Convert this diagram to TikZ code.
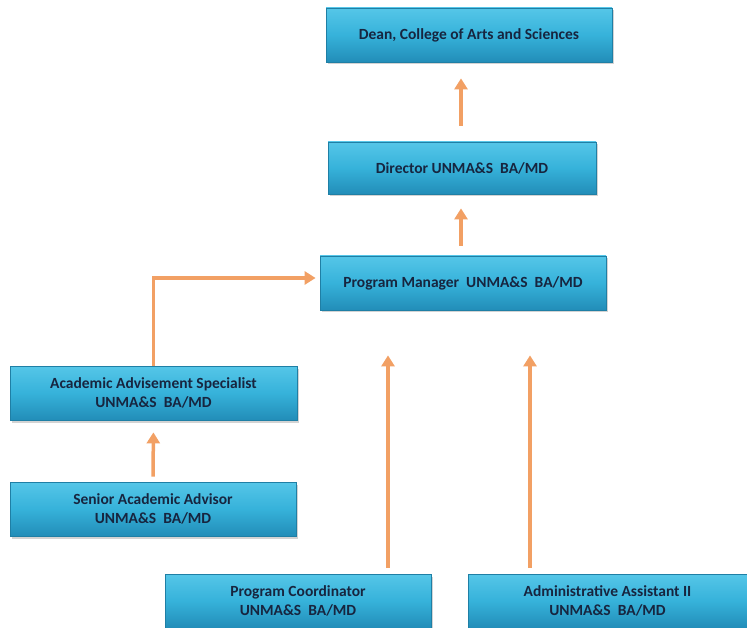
\documentclass[tikz,border=0pt]{standalone}
\usepackage{fontspec}
\setmainfont{Carlito}
\usetikzlibrary{arrows.meta,shadows}
\definecolor{boxtop}{HTML}{55C6E8}
\definecolor{boxmid}{HTML}{36B2DA}
\definecolor{boxbot}{HTML}{228DB8}
\definecolor{boxline}{HTML}{1F7FA5}
\definecolor{txt}{HTML}{17253F}
\definecolor{arrc}{HTML}{F2A064}
\tikzset{
  box/.style={rectangle, draw=boxline, line width=0.8pt,
    top color=boxtop, bottom color=boxbot, middle color=boxmid,
    text=txt, font=\bfseries\fontsize{15.5}{19}\selectfont, align=center,
    minimum height=54pt, inner sep=2pt,
    drop shadow={shadow xshift=2pt, shadow yshift=-2.5pt, opacity=0.35}},
  arr/.style={draw=arrc, line width=3.5pt, -{Triangle[width=13pt,length=11pt]}}
}
\begin{document}
\begin{tikzpicture}[x=1pt,y=-1pt]
\useasboundingbox (0,0) rectangle (747,628);
\node[box, minimum width=286pt] (dean) at (469,35) {Dean, College of Arts and Sciences};
\node[box, minimum width=268pt, minimum height=52pt] (director) at (462,168) {Director UNMA\&S\ \ BA/MD};
\node[box, minimum width=286pt] (pm) at (463,283) {Program Manager\ \ UNMA\&S\ \ BA/MD};
\node[box, minimum width=287pt] (aas) at (153.5,393) {Academic Advisement Specialist\\UNMA\&S\ \ BA/MD};
\node[box, minimum width=286pt] (sen) at (153,509) {Senior Academic Advisor\\UNMA\&S\ \ BA/MD};
\node[box, minimum width=266pt] (pc) at (298,601) {Program Coordinator\\UNMA\&S\ \ BA/MD};
\node[box, minimum width=279pt] (aa) at (607.5,601) {Administrative Assistant II\\UNMA\&S\ \ BA/MD};
\coordinate (pcfoot) at (388,574);
\coordinate (aafoot) at (530,574);
\draw[arr, shorten <=16pt, shorten >=16pt] ([xshift=-1pt]director.north) -- ([xshift=-1pt]director.north |- dean.south);
\draw[arr, shorten <=10pt, shorten >=14pt] ([xshift=-1pt]director.south |- pm.north) -- ([xshift=-1pt]director.south);
\draw[arr, shorten >=4pt] (aas.north) |- ([yshift=5pt]pm.west);
\draw[arr, shorten <=5pt, shorten >=12pt] (sen.north) -- (aas.south);
\draw[arr, shorten <=6pt, shorten >=45pt] (pcfoot) -- (pcfoot |- pm.south);
\draw[arr, shorten <=6pt, shorten >=45pt] (aafoot) -- (aafoot |- pm.south);
\end{tikzpicture}
\end{document}
